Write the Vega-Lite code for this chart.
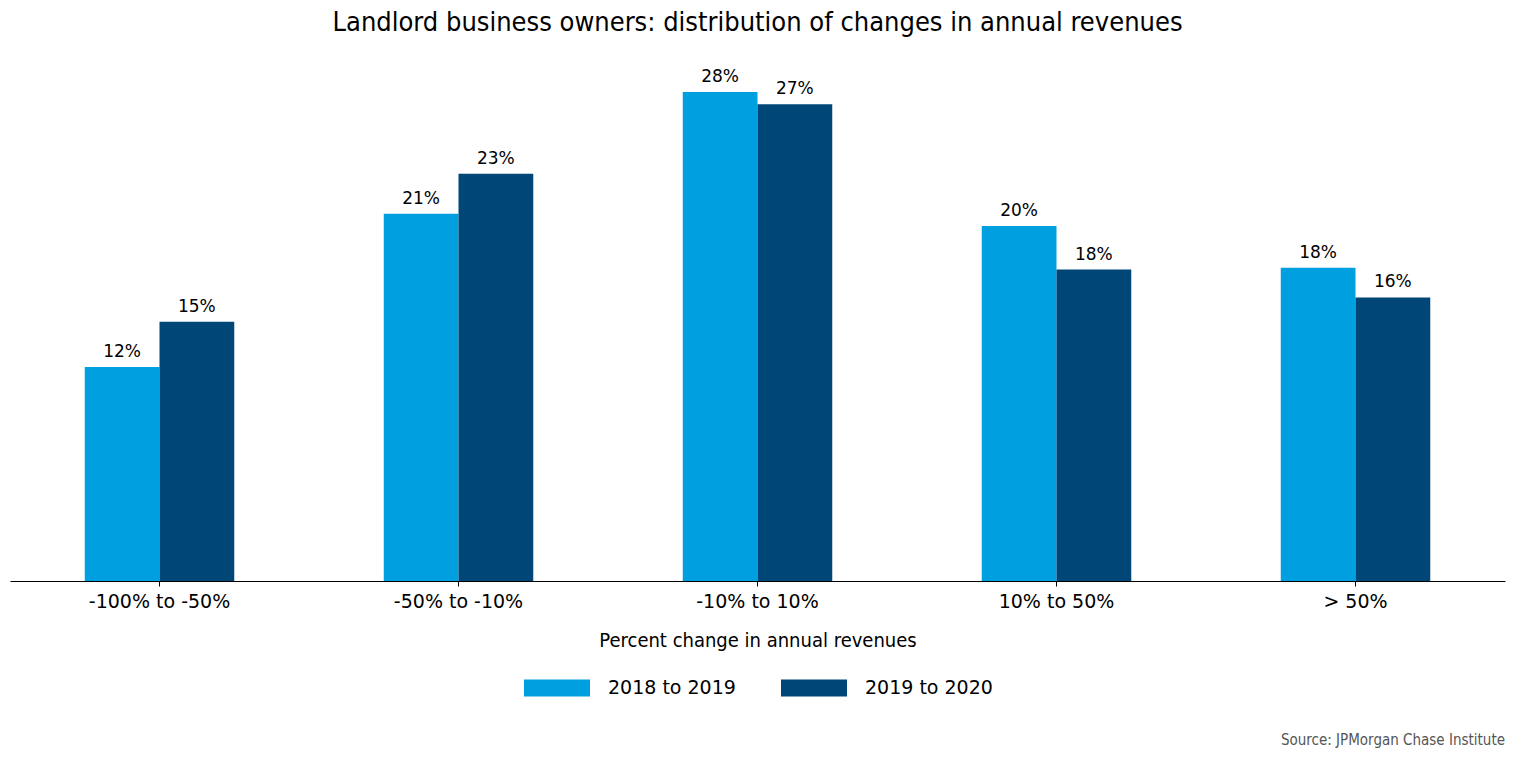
{
  "$schema": "https://vega.github.io/schema/vega-lite/v6.json",
  "autosize": {"type": "pad"},
  "padding": {"left": 10, "top": 9, "right": 10, "bottom": 5},
  "background": "white",
  "title": {
    "text": "Landlord business owners: distribution of changes in annual revenues",
    "font": "DejaVu Sans Condensed",
    "fontSize": 27,
    "fontWeight": "normal",
    "color": "#000000",
    "anchor": "middle",
    "offset": 22
  },
  "config": {
    "view": {"stroke": null},
    "font": "DejaVu Sans"
  },
  "vconcat": [
    {
      "width": 1495,
      "height": 522,
      "title": {
        "text": "Source: JPMorgan Chase Institute",
        "orient": "bottom",
        "anchor": "end",
        "font": "DejaVu Sans Condensed",
        "fontSize": 15,
        "fontWeight": "normal",
        "color": "#555555",
        "offset": 83
      },
      "data": {
        "values": [
          {"category": "-100% to -50%", "period": "2018 to 2019", "share": 0.123},
          {"category": "-100% to -50%", "period": "2019 to 2020", "share": 0.149},
          {"category": "-50% to -10%", "period": "2018 to 2019", "share": 0.211},
          {"category": "-50% to -10%", "period": "2019 to 2020", "share": 0.234},
          {"category": "-10% to 10%", "period": "2018 to 2019", "share": 0.281},
          {"category": "-10% to 10%", "period": "2019 to 2020", "share": 0.274},
          {"category": "10% to 50%", "period": "2018 to 2019", "share": 0.204},
          {"category": "10% to 50%", "period": "2019 to 2020", "share": 0.179},
          {"category": "> 50%", "period": "2018 to 2019", "share": 0.180},
          {"category": "> 50%", "period": "2019 to 2020", "share": 0.163}
        ]
      },
      "encoding": {
        "x": {
          "field": "category",
          "type": "nominal",
          "sort": ["-100% to -50%", "-50% to -10%", "-10% to 10%", "10% to 50%", "> 50%"],
          "scale": {"paddingInner": 0.5, "paddingOuter": 0.25},
          "axis": {
            "title": "Percent change in annual revenues",
            "titleFont": "DejaVu Sans Condensed",
            "titleFontSize": 20,
            "titleFontWeight": "normal",
            "titleColor": "#000000",
            "titlePadding": 19,
            "labelAngle": 0,
            "labelFont": "DejaVu Sans",
            "labelFontSize": 19,
            "labelColor": "#000000",
            "labelPadding": 6,
            "domainColor": "#000000",
            "domainWidth": 1,
            "tickColor": "#000000",
            "tickSize": 5,
            "grid": false
          }
        },
        "xOffset": {
          "field": "period",
          "type": "nominal",
          "sort": ["2018 to 2019", "2019 to 2020"],
          "scale": {"paddingInner": 0, "paddingOuter": 0}
        },
        "y": {
          "field": "share",
          "type": "quantitative",
          "scale": {"domain": [0, 0.3], "nice": false},
          "axis": null
        }
      },
      "layer": [
        {
          "mark": {"type": "bar"},
          "encoding": {
            "color": {
              "field": "period",
              "type": "nominal",
              "sort": ["2018 to 2019", "2019 to 2020"],
              "scale": {"domain": ["2018 to 2019", "2019 to 2020"], "range": ["#009fdf", "#004677"]},
              "legend": {
                "title": null,
                "orient": "none",
                "direction": "horizontal",
                "legendX": 514,
                "legendY": 596,
                "symbolType": "M-1,-0.2576H1V0.2576H-1Z",
                "symbolSize": 4356,
                "symbolStrokeWidth": 0,
                "symbolOpacity": 1,
                "labelFont": "DejaVu Sans",
                "labelFontSize": 19,
                "labelColor": "#000000",
                "labelOffset": 18,
                "columnPadding": 45,
                "padding": 0
              }
            }
          }
        },
        {
          "mark": {"type": "text", "baseline": "alphabetic", "dy": -10, "fontSize": 17, "font": "DejaVu Sans", "color": "#000000"},
          "encoding": {
            "text": {"field": "share", "type": "quantitative", "format": ".0%"}
          }
        }
      ]
    }
  ]
}
